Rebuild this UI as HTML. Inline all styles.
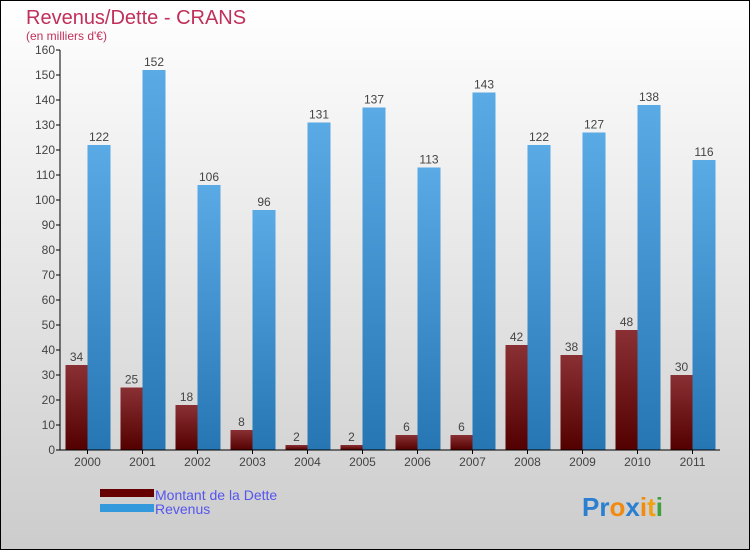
<!DOCTYPE html>
<html><head><meta charset="utf-8"><style>
body{margin:0;width:750px;height:550px;overflow:hidden}
svg{display:block;font-family:"Liberation Sans",sans-serif}
</style></head><body>
<svg width="750" height="550">
<defs>
<linearGradient id="bg" x1="0" y1="0" x2="0" y2="1"><stop offset="0" stop-color="#ffffff"/><stop offset="1" stop-color="#cccccc"/></linearGradient>
<linearGradient id="gd" x1="0" y1="0" x2="0" y2="1"><stop offset="0" stop-color="#8a3034"/><stop offset="1" stop-color="#530000"/></linearGradient>
<linearGradient id="gr" x1="0" y1="0" x2="0" y2="1"><stop offset="0" stop-color="#5aaae6"/><stop offset="1" stop-color="#2676b4"/></linearGradient>
</defs>
<rect x="0.5" y="0.5" width="749" height="549" fill="url(#bg)" stroke="#000"/>
<text x="26" y="24" font-size="20" fill="#c0305a">Revenus/Dette - CRANS</text>
<text x="26" y="40" font-size="12" fill="#c0305a">(en milliers d'€)</text>
<g id="plot"></g>
<g>
<rect x="100" y="489" width="54" height="8" fill="#660000"/>
<text x="155" y="500" font-size="14" fill="#5555ee">Montant de la Dette</text>
<rect x="100" y="504" width="54" height="8" fill="#3399dd"/>
<text x="155" y="514" font-size="14" fill="#5555ee">Revenus</text>
</g>
<text x="582" y="516" font-size="26" font-weight="bold"><tspan fill="#2a7fd0">Pr</tspan><tspan fill="#f08a10">o</tspan><tspan fill="#2a7fd0">x</tspan><tspan fill="#f08a10">i</tspan><tspan fill="#f0a010">t</tspan><tspan fill="#40a040">i</tspan></text>
</svg>
<script>
const years=["2000","2001","2002","2003","2004","2005","2006","2007","2008","2009","2010","2011"];
const dette=[34,25,18,8,2,2,6,6,42,38,48,30];
const revenus=[122,152,106,96,131,137,113,143,122,127,138,116];
const yTicks=[0,10,20,30,40,50,60,70,80,90,100,110,120,130,140,150,160];
const NS="http://www.w3.org/2000/svg";
const g=document.getElementById('plot');
const x0=60,x1=720,yB=450,yT=50,yMax=160;
const y=v=>yB-(v/yMax)*(yB-yT);
const band=(x1-x0)/years.length;
const cx=i=>x0+band*(i+0.5);
function el(t,a,txt){const e=document.createElementNS(NS,t);for(const k in a)e.setAttribute(k,a[k]);if(txt!=null)e.textContent=txt;g.appendChild(e);return e;}
yTicks.forEach(v=>{
 const l=el('line',{x1:x0-4,x2:x0,y1:y(v),y2:y(v),stroke:'#000'});
 
 
 const t=el('text',{x:x0-5,y:y(v)+4,'font-size':12,fill:'#444','text-anchor':'end'},v);
 
 
});
years.forEach((yr,i)=>{
 const c=cx(i);
 const b1=el('rect',{x:c-22,y:y(dette[i]),width:22,height:yB-y(dette[i]),fill:'url(#gd)'});
 
 
 const b2=el('rect',{x:c,y:y(revenus[i]),width:23,height:yB-y(revenus[i]),fill:'url(#gr)'});
 
 
 const t1=el('text',{x:c-11,y:y(dette[i])-4,'font-size':12,fill:'#444','text-anchor':'middle'},dette[i]);
 
 
 const t2=el('text',{x:c+11.5,y:y(revenus[i])-4,'font-size':12,fill:'#444','text-anchor':'middle'},revenus[i]);
 
 
 const tk=el('line',{x1:c,x2:c,y1:yB,y2:yB+4,stroke:'#000'});
 
 
 const xl=el('text',{x:c,y:yB+16,'font-size':12,fill:'#444','text-anchor':'middle'},yr);
 
 
});
const ya=el('line',{x1:x0,x2:x0,y1:yT,y2:yB,stroke:'#000'});


const xa=el('line',{x1:x0,x2:x1,y1:yB,y2:yB,stroke:'#000'});


</script>
</body></html>
